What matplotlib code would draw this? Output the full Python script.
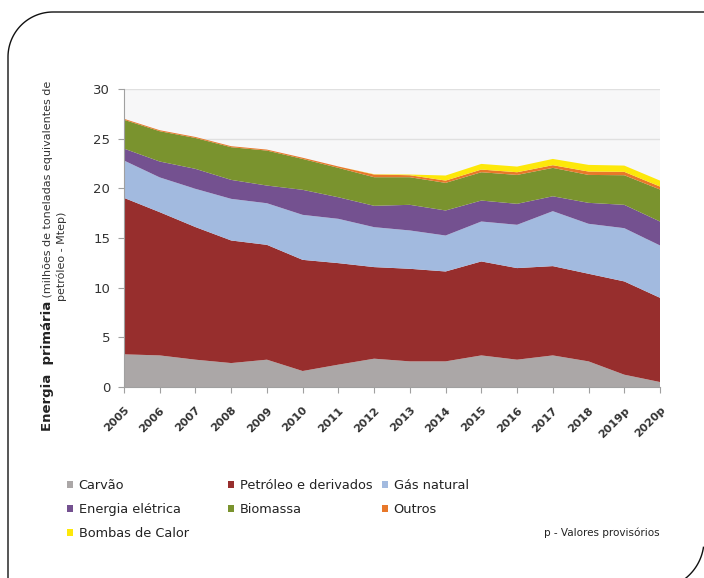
import numpy as np
import matplotlib
matplotlib.use("Agg")
import matplotlib.pyplot as plt
from matplotlib.patches import Patch
from matplotlib.lines import Line2D

plt.rcParams['font.family'] = ['DejaVu Sans']

years = ['2005', '2006', '2007', '2008', '2009', '2010', '2011', '2012',
         '2013', '2014', '2015', '2016', '2017', '2018', '2019p', '2020p']

carvao    = [3.29, 3.18, 2.75, 2.41, 2.75, 1.61, 2.25, 2.85, 2.58, 2.58, 3.18, 2.75, 3.18, 2.58, 1.24, 0.50]
petroleo  = [15.75, 14.42, 13.35, 12.34, 11.56, 11.19, 10.22, 9.22, 9.32, 9.05, 9.46, 9.22, 8.99, 8.82, 9.39, 8.48]
gas       = [3.76, 3.50, 3.85, 4.19, 4.19, 4.53, 4.46, 4.02, 3.86, 3.62, 4.02, 4.36, 5.53, 5.03, 5.36, 5.27]
eletrica  = [1.20, 1.60, 2.01, 1.91, 1.78, 2.52, 2.17, 2.15, 2.58, 2.52, 2.11, 2.11, 1.50, 2.11, 2.35, 2.41]
biomassa  = [2.90, 3.05, 3.11, 3.29, 3.52, 3.11, 2.96, 2.88, 2.78, 2.78, 2.85, 2.91, 2.86, 2.81, 2.98, 3.22]
outros    = [0.10, 0.10, 0.10, 0.10, 0.10, 0.12, 0.14, 0.27, 0.20, 0.23, 0.27, 0.27, 0.27, 0.34, 0.34, 0.30]
bombas    = [0.00, 0.00, 0.00, 0.00, 0.00, 0.00, 0.00, 0.03, 0.07, 0.51, 0.57, 0.57, 0.63, 0.67, 0.63, 0.60]

series_labels = ['Carvão', 'Petróleo e derivados', 'Gás natural', 'Energia elétrica',
                 'Biomassa', 'Outros', 'Bombas de Calor']
colors = ['#aba7a7', '#972e2d', '#a2badf', '#745190', '#7a932e', '#e8782a', '#fde80a']

W, H = 704, 578
fig = plt.figure(figsize=(W / 100, H / 100), dpi=100)
fig.patch.set_facecolor('white')

def fx(px):
    return px / W

def fy(py):
    return 1 - py / H

ax = fig.add_axes([fx(124), fy(387), (660 - 124) / W, (387 - 89) / H])
ax.set_facecolor('#f7f7f8')
x = np.arange(len(years))
ax.stackplot(x, carvao, petroleo, gas, eletrica, biomassa, outros, bombas,
             colors=colors, linewidth=0, zorder=2)
ax.set_xlim(0, len(years) - 1)
ax.set_ylim(0, 30)
ax.set_yticks([0, 5, 10, 15, 20, 25, 30])
ax.yaxis.grid(True, color='#e0e0e0', linewidth=1.0, zorder=0)
ax.set_axisbelow(True)
ax.set_xticks(x)
ax.set_xticklabels(years, rotation=45, ha='right', va='top', rotation_mode='anchor',
                   fontsize=8, fontweight='bold', color='#333333')
for lab in ax.get_yticklabels():
    lab.set_fontsize(9.5)
    lab.set_color('#333333')
for s in ['top', 'right']:
    ax.spines[s].set_visible(False)
for s in ['left', 'bottom']:
    ax.spines[s].set_color('#a0a0a0')
    ax.spines[s].set_linewidth(0.8)
ax.tick_params(axis='y', length=4, color='#a0a0a0', pad=6)
ax.tick_params(axis='x', length=4, color='#a0a0a0', pad=9)

# y-axis label (two parts on line 1, line 2 below)
renderer = fig.canvas.get_renderer()
t1 = fig.text(fx(48), 0.5, 'Energia  primária', rotation=90, ha='center', va='bottom',
              fontsize=9.5, fontweight='bold', color='#222222')
t2 = fig.text(fx(48), 0.5, ' (milhões de toneladas equivalentes de', rotation=90,
              ha='center', va='bottom', fontsize=8, color='#333333')
h1 = t1.get_window_extent(renderer).height
h2 = t2.get_window_extent(renderer).height
total = h1 + h2
center = H - 256
start = center - total / 2
t1.set_position((fx(48), start / H))
t2.set_position((fx(48), (start + h1) / H))
fig.text(fx(62), fy(256), 'petróleo - Mtep)', rotation=90, ha='center', va='center',
         fontsize=8, color='#333333')

# legend in three columns, row-wise order
handles = [Patch(facecolor=c, edgecolor='none') for c in colors]
columns = [([0, 3, 6], 67), ([1, 4], 228), ([2, 5], 382)]
for idxs, xpx in columns:
    fig.legend([handles[i] for i in idxs], [series_labels[i] for i in idxs],
               loc='upper left', bbox_to_anchor=(fx(xpx), fy(479)), frameon=False,
               handlelength=0.45, handleheight=0.45, handletextpad=0.45,
               labelspacing=0.84, fontsize=9.3, borderaxespad=0, borderpad=0,
               labelcolor='#222222')

fig.text(fx(660), fy(533), 'p - Valores provisórios', ha='right', va='center',
         fontsize=7.5, color='#222222')

# rounded frame decoration
t = np.linspace(np.pi, 1.5 * np.pi, 40)
r = 45
cx, cy = 8 + r, 12 + r
xs = np.concatenate([[8], cx + r * np.cos(t), [W + 5]])
ys = np.concatenate([[H + 5], cy + r * np.sin(t), [12]])
fig.add_artist(Line2D(xs / W, 1 - ys / H, transform=fig.transFigure, color='#111111', lw=1.0))
t = np.linspace(0.15, 1.1, 40)
r2 = 49
xs2 = 655 + r2 * np.cos(t)
ys2 = 540 + r2 * np.sin(t)
fig.add_artist(Line2D(xs2 / W, 1 - ys2 / H, transform=fig.transFigure, color='#111111', lw=1.0))

fig.savefig('out.png', dpi=100, facecolor='white')
